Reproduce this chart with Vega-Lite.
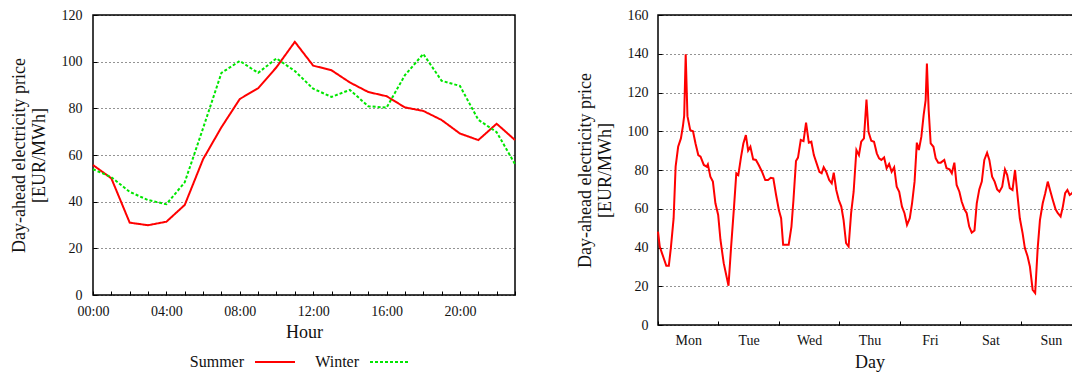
{
  "$schema": "https://vega.github.io/schema/vega-lite/v6.json",
  "padding": {"left": 9, "top": 7, "right": 0, "bottom": 0},
  "background": "#ffffff",
  "config": {
    "font": "Liberation Serif",
    "view": {"stroke": "#000000", "strokeWidth": 1.5},
    "axis": {
      "labelFont": "Liberation Serif", "labelFontSize": 14, "labelColor": "#111111",
      "titleFont": "Liberation Serif", "titleFontSize": 18, "titleFontWeight": "normal", "titleColor": "#111111",
      "domain": false, "tickColor": "#000000", "tickSize": -4, "tickWidth": 1,
      "gridColor": "#000000", "gridDash": [1, 3], "gridOpacity": 0.85,
      "labelFlush": false, "labelOverlap": false
    }
  },
  "datasets": {
    "seasonal": [
      {"hour": 0, "price": 55.7, "season": "Summer"},
      {"hour": 1, "price": 50.0, "season": "Summer"},
      {"hour": 2, "price": 31.0, "season": "Summer"},
      {"hour": 3, "price": 29.9, "season": "Summer"},
      {"hour": 4, "price": 31.4, "season": "Summer"},
      {"hour": 5, "price": 38.6, "season": "Summer"},
      {"hour": 6, "price": 58.2, "season": "Summer"},
      {"hour": 7, "price": 71.9, "season": "Summer"},
      {"hour": 8, "price": 84.0, "season": "Summer"},
      {"hour": 9, "price": 88.6, "season": "Summer"},
      {"hour": 10, "price": 97.6, "season": "Summer"},
      {"hour": 11, "price": 108.5, "season": "Summer"},
      {"hour": 12, "price": 98.3, "season": "Summer"},
      {"hour": 13, "price": 96.3, "season": "Summer"},
      {"hour": 14, "price": 91.1, "season": "Summer"},
      {"hour": 15, "price": 87.0, "season": "Summer"},
      {"hour": 16, "price": 85.2, "season": "Summer"},
      {"hour": 17, "price": 80.4, "season": "Summer"},
      {"hour": 18, "price": 78.9, "season": "Summer"},
      {"hour": 19, "price": 75.0, "season": "Summer"},
      {"hour": 20, "price": 69.2, "season": "Summer"},
      {"hour": 21, "price": 66.4, "season": "Summer"},
      {"hour": 22, "price": 73.4, "season": "Summer"},
      {"hour": 23, "price": 66.4, "season": "Summer"},
      {"hour": 0, "price": 53.9, "season": "Winter"},
      {"hour": 1, "price": 50.5, "season": "Winter"},
      {"hour": 2, "price": 44.2, "season": "Winter"},
      {"hour": 3, "price": 40.7, "season": "Winter"},
      {"hour": 4, "price": 38.9, "season": "Winter"},
      {"hour": 5, "price": 48.3, "season": "Winter"},
      {"hour": 6, "price": 71.5, "season": "Winter"},
      {"hour": 7, "price": 95.2, "season": "Winter"},
      {"hour": 8, "price": 100.3, "season": "Winter"},
      {"hour": 9, "price": 95.2, "season": "Winter"},
      {"hour": 10, "price": 101.4, "season": "Winter"},
      {"hour": 11, "price": 96.0, "season": "Winter"},
      {"hour": 12, "price": 88.4, "season": "Winter"},
      {"hour": 13, "price": 84.9, "season": "Winter"},
      {"hour": 14, "price": 87.9, "season": "Winter"},
      {"hour": 15, "price": 80.9, "season": "Winter"},
      {"hour": 16, "price": 80.3, "season": "Winter"},
      {"hour": 17, "price": 94.2, "season": "Winter"},
      {"hour": 18, "price": 103.3, "season": "Winter"},
      {"hour": 19, "price": 91.8, "season": "Winter"},
      {"hour": 20, "price": 89.6, "season": "Winter"},
      {"hour": 21, "price": 75.1, "season": "Winter"},
      {"hour": 22, "price": 69.8, "season": "Winter"},
      {"hour": 23, "price": 56.1, "season": "Winter"}
    ],
    "week": [
      {"hour": 0, "price": 48.2}, {"hour": 0.7, "price": 40.5}, {"hour": 1.6, "price": 37.0},
      {"hour": 3.3, "price": 30.6}, {"hour": 4.3, "price": 30.6}, {"hour": 5.1, "price": 39.7},
      {"hour": 6.2, "price": 55.0}, {"hour": 7.0, "price": 81.7}, {"hour": 8.0, "price": 92.0},
      {"hour": 9.1, "price": 96.3}, {"hour": 9.9, "price": 102.7}, {"hour": 10.4, "price": 108.0},
      {"hour": 11.0, "price": 139.7}, {"hour": 11.7, "price": 107.8}, {"hour": 12.8, "price": 100.6},
      {"hour": 13.9, "price": 100.0}, {"hour": 14.9, "price": 93.7}, {"hour": 16.0, "price": 87.7},
      {"hour": 16.9, "price": 86.9}, {"hour": 18.2, "price": 82.6}, {"hour": 19.3, "price": 81.7},
      {"hour": 19.8, "price": 82.9}, {"hour": 20.8, "price": 76.6}, {"hour": 21.8, "price": 74.0},
      {"hour": 22.8, "price": 62.8}, {"hour": 23.9, "price": 56.8}, {"hour": 24.8, "price": 44.0},
      {"hour": 26.1, "price": 31.9}, {"hour": 28.0, "price": 20.3}, {"hour": 29.0, "price": 39.7},
      {"hour": 30.2, "price": 61.1}, {"hour": 31.1, "price": 78.3}, {"hour": 31.9, "price": 77.4},
      {"hour": 33.0, "price": 86.9}, {"hour": 33.9, "price": 93.7}, {"hour": 34.9, "price": 98.0},
      {"hour": 35.8, "price": 90.0}, {"hour": 36.7, "price": 92.0}, {"hour": 37.8, "price": 85.5},
      {"hour": 38.9, "price": 85.2}, {"hour": 40.0, "price": 82.6}, {"hour": 41.3, "price": 79.1},
      {"hour": 42.6, "price": 74.8}, {"hour": 43.7, "price": 74.8}, {"hour": 44.8, "price": 76.0},
      {"hour": 45.8, "price": 75.7}, {"hour": 46.9, "price": 67.1}, {"hour": 48.0, "price": 59.4},
      {"hour": 48.9, "price": 55.1}, {"hour": 49.7, "price": 41.4}, {"hour": 50.9, "price": 41.4},
      {"hour": 51.9, "price": 41.4}, {"hour": 53.0, "price": 50.8}, {"hour": 53.8, "price": 64.5},
      {"hour": 54.8, "price": 84.6}, {"hour": 55.6, "price": 86.4}, {"hour": 56.7, "price": 95.5},
      {"hour": 57.8, "price": 94.9}, {"hour": 58.8, "price": 104.4}, {"hour": 59.9, "price": 94.1},
      {"hour": 60.9, "price": 94.6}, {"hour": 61.9, "price": 87.7}, {"hour": 63.0, "price": 83.4},
      {"hour": 64.1, "price": 79.1}, {"hour": 65.0, "price": 78.3}, {"hour": 65.8, "price": 81.4},
      {"hour": 66.8, "price": 79.1}, {"hour": 68.0, "price": 74.8}, {"hour": 69.0, "price": 73.1},
      {"hour": 69.8, "price": 78.6}, {"hour": 70.8, "price": 69.7}, {"hour": 71.8, "price": 64.5},
      {"hour": 72.8, "price": 61.1}, {"hour": 73.7, "price": 54.2}, {"hour": 74.7, "price": 42.2},
      {"hour": 75.7, "price": 40.5}, {"hour": 76.7, "price": 57.7}, {"hour": 77.7, "price": 68.8},
      {"hour": 78.8, "price": 90.3}, {"hour": 79.8, "price": 87.7}, {"hour": 80.7, "price": 94.6},
      {"hour": 81.8, "price": 96.3}, {"hour": 82.8, "price": 116.4}, {"hour": 83.6, "price": 99.7},
      {"hour": 84.7, "price": 95.1}, {"hour": 85.8, "price": 94.6}, {"hour": 86.9, "price": 88.6},
      {"hour": 87.8, "price": 86.0}, {"hour": 88.7, "price": 85.2}, {"hour": 89.8, "price": 86.5},
      {"hour": 90.8, "price": 80.9}, {"hour": 91.8, "price": 83.1}, {"hour": 92.8, "price": 79.1},
      {"hour": 93.8, "price": 81.4}, {"hour": 94.8, "price": 71.4}, {"hour": 95.8, "price": 68.8},
      {"hour": 96.9, "price": 61.1}, {"hour": 97.9, "price": 57.7}, {"hour": 98.9, "price": 51.7},
      {"hour": 100.0, "price": 55.1}, {"hour": 100.9, "price": 62.8}, {"hour": 101.9, "price": 74.0},
      {"hour": 102.8, "price": 94.1}, {"hour": 103.6, "price": 90.3}, {"hour": 104.6, "price": 97.2},
      {"hour": 105.5, "price": 108.3}, {"hour": 106.3, "price": 116.0}, {"hour": 106.8, "price": 134.9},
      {"hour": 107.5, "price": 110.9}, {"hour": 108.3, "price": 93.7}, {"hour": 109.4, "price": 92.0},
      {"hour": 110.3, "price": 86.0}, {"hour": 111.3, "price": 83.8}, {"hour": 112.3, "price": 83.8},
      {"hour": 113.7, "price": 85.2}, {"hour": 114.6, "price": 80.9}, {"hour": 115.8, "price": 80.3},
      {"hour": 116.7, "price": 78.3}, {"hour": 117.7, "price": 83.8}, {"hour": 118.6, "price": 72.3},
      {"hour": 119.7, "price": 68.8}, {"hour": 120.6, "price": 63.7}, {"hour": 121.7, "price": 59.7},
      {"hour": 122.6, "price": 57.7}, {"hour": 123.6, "price": 50.8}, {"hour": 124.6, "price": 47.7},
      {"hour": 125.7, "price": 48.8}, {"hour": 126.6, "price": 62.8}, {"hour": 127.6, "price": 70.0},
      {"hour": 128.6, "price": 74.0}, {"hour": 129.6, "price": 85.2}, {"hour": 130.7, "price": 88.9},
      {"hour": 131.6, "price": 85.2}, {"hour": 132.7, "price": 76.6}, {"hour": 133.7, "price": 74.0},
      {"hour": 134.7, "price": 70.0}, {"hour": 135.6, "price": 68.8}, {"hour": 136.7, "price": 71.4},
      {"hour": 137.8, "price": 80.3}, {"hour": 138.7, "price": 77.4}, {"hour": 139.7, "price": 70.6},
      {"hour": 140.8, "price": 69.7}, {"hour": 141.8, "price": 80.0}, {"hour": 142.7, "price": 68.0},
      {"hour": 143.7, "price": 55.1}, {"hour": 144.8, "price": 47.4}, {"hour": 145.7, "price": 39.7},
      {"hour": 146.8, "price": 35.4}, {"hour": 147.7, "price": 30.2}, {"hour": 148.8, "price": 18.2},
      {"hour": 149.8, "price": 16.5}, {"hour": 150.8, "price": 39.7}, {"hour": 151.7, "price": 54.2},
      {"hour": 152.8, "price": 62.8}, {"hour": 153.8, "price": 68.0}, {"hour": 154.8, "price": 74.0},
      {"hour": 155.7, "price": 69.7}, {"hour": 156.8, "price": 64.5}, {"hour": 157.9, "price": 59.7},
      {"hour": 158.8, "price": 57.7}, {"hour": 159.9, "price": 56.0}, {"hour": 160.8, "price": 61.1},
      {"hour": 161.7, "price": 68.0}, {"hour": 162.6, "price": 69.7}, {"hour": 163.5, "price": 67.1},
      {"hour": 164.4, "price": 68.0}, {"hour": 165.5, "price": 69.7}, {"hour": 166.6, "price": 68.0}
    ]
  },
  "spacing": 55,
  "hconcat": [
    {
      "width": 422,
      "height": 280,
      "data": {"name": "seasonal"},
      "mark": {"type": "line", "strokeWidth": 2},
      "encoding": {
        "x": {
          "field": "hour", "type": "quantitative",
          "scale": {"domain": [0, 23], "nice": false, "zero": false},
          "axis": {
            "title": "Hour", "grid": false,
            "values": [0,1,2,3,4,5,6,7,8,9,10,11,12,13,14,15,16,17,18,19,20,21,22,23],
            "labelExpr": "datum.value % 4 == 0 ? (datum.value < 10 ? '0' : '') + datum.value + ':00' : ''",
            "labelPadding": 13, "titlePadding": 5
          }
        },
        "y": {
          "field": "price", "type": "quantitative",
          "scale": {"domain": [0, 120], "nice": false},
          "axis": {
            "title": ["Day-ahead electricity price", "[EUR/MWh]"],
            "values": [0, 20, 40, 60, 80, 100, 120], "grid": true,
            "labelPadding": 15, "titlePadding": 13, "titleLineHeight": 20
          }
        },
        "color": {
          "field": "season", "type": "nominal",
          "scale": {"domain": ["Summer", "Winter"], "range": ["#ff0000", "#00e600"]},
          "legend": {
            "title": null, "orient": "none", "legendX": 161, "legendY": 326,
            "direction": "horizontal", "symbolType": "stroke", "symbolSize": 1600,
            "symbolStrokeWidth": 2, "labelFont": "Liberation Serif", "labelFontSize": 16,
            "labelColor": "#111111", "labelAlign": "right", "labelOffset": -52,
            "columnPadding": 16,
            "encode": {
              "symbols": {
                "update": {
                  "stroke": {"scale": "color", "field": "value"},
                  "strokeDash": {"scale": "strokeDash", "field": "value"}
                }
              }
            }
          }
        },
        "strokeDash": {
          "field": "season", "type": "nominal",
          "scale": {"domain": ["Summer", "Winter"], "range": [[1, 0], [3, 2]]},
          "legend": null
        }
      }
    },
    {
      "width": 423,
      "height": 310,
      "data": {"name": "week"},
      "mark": {"type": "line", "color": "#ff0000", "strokeWidth": 2},
      "encoding": {
        "x": {
          "field": "hour", "type": "quantitative",
          "scale": {"domain": [0, 168], "nice": false, "zero": false},
          "axis": {
            "title": "Day", "grid": false,
            "values": [0,12,24,36,48,60,72,84,96,108,120,132,144,156,168],
            "labelExpr": "datum.value % 24 == 12 ? ['Mon','Tue','Wed','Thu','Fri','Sat','Sun'][floor(datum.value / 24)] : ''",
            "tickOpacity": {"condition": {"test": "datum.value % 24 != 0", "value": 0}, "value": 1},
            "labelPadding": 12, "titlePadding": 6
          }
        },
        "y": {
          "field": "price", "type": "quantitative",
          "scale": {"domain": [0, 160], "nice": false},
          "axis": {
            "title": ["Day-ahead electricity price", "[EUR/MWh]"],
            "values": [0, 20, 40, 60, 80, 100, 120, 140, 160], "grid": true,
            "labelPadding": 14, "titlePadding": 13, "titleLineHeight": 20
          }
        }
      }
    }
  ]
}
